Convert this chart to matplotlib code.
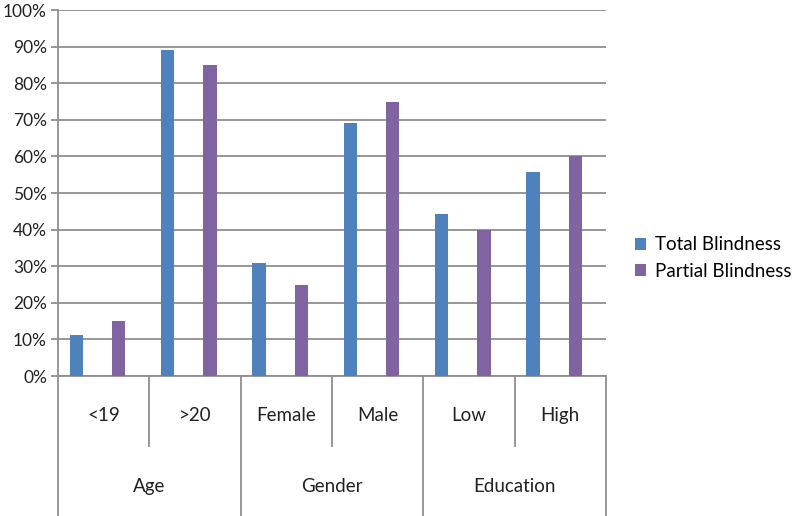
import matplotlib.pyplot as plt
import matplotlib.transforms as mtransforms
from matplotlib.ticker import PercentFormatter

# data
categories = ["<19", ">20", "Female", "Male", "Low", "High"]
groups = ["Age", "Gender", "Education"]
total_blindness = [11.3, 89, 31, 69, 44.4, 55.8]
partial_blindness = [15, 85, 25, 75, 40, 60]

plt.rcParams['font.family'] = ['Lato', 'DejaVu Sans']

fig = plt.figure(figsize=(7.96, 5.16), dpi=100)
ax = fig.add_axes([0.0729, 0.2713, 0.6884, 0.7093])

x = list(range(len(categories)))
bw = 0.147
ax.bar([i - 0.30 for i in x], total_blindness, width=bw, color="#4F81BD", label="Total Blindness", zorder=3)
ax.bar([i + 0.165 for i in x], partial_blindness, width=bw, color="#8064A2", label="Partial Blindness", zorder=3)

ax.set_xlim(-0.5, 5.5)
ax.set_ylim(0, 100)
ax.set_yticks(range(0, 101, 10))
ax.yaxis.set_major_formatter(PercentFormatter(decimals=0))
ax.grid(axis="y", color="#8f8f8f", linewidth=1.3, zorder=0)
ax.set_axisbelow(True)

for s in ["top", "right"]:
    ax.spines[s].set_visible(False)
ax.spines["left"].set_color("#8f8f8f")
ax.spines["bottom"].set_color("#8f8f8f")
ax.spines["left"].set_linewidth(1.3)
ax.spines["bottom"].set_linewidth(1.3)
ax.tick_params(axis="y", length=5, width=1.3, color="#8f8f8f", pad=3, labelsize=12.5, labelcolor="#222222")
ax.set_xticks([])

# multi-level category axis
trans = mtransforms.blended_transform_factory(ax.transData, ax.transAxes)
for xs in [0.5, 2.5, 4.5]:
    ax.plot([xs, xs], [0, -0.191], transform=trans, color="#8f8f8f", lw=1.3, clip_on=False)
for xs in [-0.5, 1.5, 3.5, 5.5]:
    ax.plot([xs, xs], [0, -0.385], transform=trans, color="#8f8f8f", lw=1.3, clip_on=False)
for i, c in enumerate(categories):
    ax.text(i, -0.1066, c, transform=trans, ha="center", va="center", fontsize=13.5, color="#222222")
for j, g in enumerate(groups):
    ax.text(2 * j + 0.5, -0.303, g, transform=trans, ha="center", va="center", fontsize=13.5, color="#222222")

fig.legend(loc="center left", bbox_to_anchor=(0.798, 0.50), frameon=False,
           borderpad=0, borderaxespad=0,
           handlelength=0.6, handleheight=0.6, handletextpad=0.45, labelspacing=0.5,
           fontsize=13.5)

fig.savefig("out.png", dpi=100)
